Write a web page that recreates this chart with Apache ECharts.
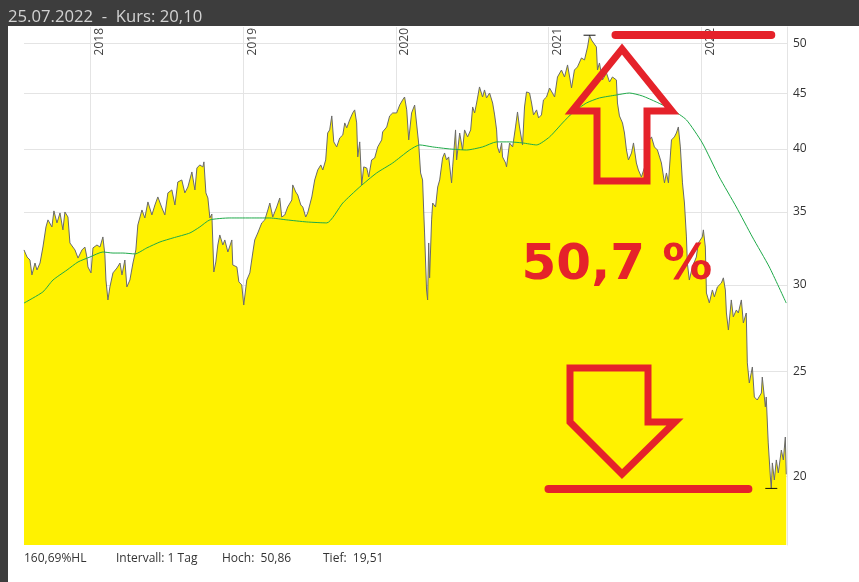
<!DOCTYPE html>
<html>
<head>
<meta charset="utf-8">
<title>Kurs</title>
<script src="https://cdn.jsdelivr.net/npm/echarts@6/dist/echarts.min.js"></script>
<style>
html,body{margin:0;padding:0;background:#fff;}
#chartPanel{width:859px;height:582px;}
</style>
</head>
<body>
<div id="chartPanel"></div>
<script>
// Datum als Dezimaljahr, Kurs in EUR
var dates = [
  2017.563,2017.583,2017.602,2017.615,2017.635,2017.648,2017.668,2017.687,2017.707,2017.720,2017.746,2017.759,2017.779,2017.799,2017.818,2017.831,2017.851,2017.864,2017.897,2017.917,2017.943,2017.962,2017.975,2017.982,
  2018.002,2018.015,2018.041,2018.061,2018.080,2018.093,2018.100,2018.113,2018.126,2018.146,2018.172,2018.192,2018.205,2018.224,2018.237,2018.257,2018.277,2018.296,2018.309,2018.336,2018.355,2018.375,2018.401,2018.421,2018.440,2018.467,2018.486,2018.506,2018.532,2018.552,2018.571,2018.597,2018.617,2018.637,2018.663,2018.683,2018.696,2018.715,2018.735,2018.742,2018.755,2018.768,2018.781,2018.794,2018.807,2018.820,2018.833,2018.846,2018.866,2018.879,2018.899,2018.925,2018.931,2018.958,2018.971,2018.990,
  2019.003,2019.023,2019.043,2019.062,2019.075,2019.095,2019.121,2019.141,2019.161,2019.174,2019.193,2019.219,2019.239,2019.252,2019.272,2019.291,2019.318,2019.324,2019.344,2019.357,2019.377,2019.390,2019.409,2019.422,2019.449,2019.468,2019.488,2019.508,2019.521,2019.540,2019.553,2019.566,2019.580,2019.593,2019.612,2019.632,2019.652,2019.665,2019.678,2019.697,2019.717,2019.730,2019.743,2019.750,2019.763,2019.776,2019.789,2019.809,2019.822,2019.841,2019.861,2019.881,2019.907,2019.913,2019.940,2019.959,2019.979,
  2020.005,2020.025,2020.044,2020.057,2020.071,2020.084,2020.103,2020.123,2020.136,2020.149,2020.162,2020.175,2020.182,2020.188,2020.201,2020.208,2020.215,2020.221,2020.234,2020.241,2020.260,2020.274,2020.287,2020.306,2020.319,2020.332,2020.346,2020.365,2020.372,2020.391,2020.398,2020.418,2020.437,2020.450,2020.470,2020.490,2020.503,2020.516,2020.529,2020.548,2020.568,2020.581,2020.594,2020.614,2020.634,2020.647,2020.660,2020.666,2020.679,2020.693,2020.699,2020.719,2020.725,2020.745,2020.765,2020.784,2020.797,2020.810,2020.830,2020.843,2020.856,2020.876,2020.889,2020.902,2020.922,2020.935,2020.954,2020.967,2020.987,
  2021.007,2021.026,2021.040,2021.059,2021.085,2021.105,2021.125,2021.151,2021.170,2021.190,2021.216,2021.236,2021.256,2021.269,2021.282,2021.295,2021.314,2021.321,2021.334,2021.354,2021.380,2021.400,2021.419,2021.445,2021.452,2021.465,2021.485,2021.498,2021.511,2021.524,2021.544,2021.557,2021.576,2021.589,2021.609,2021.635,2021.661,2021.675,2021.694,2021.714,2021.740,2021.760,2021.773,2021.786,2021.806,2021.825,2021.838,2021.851,2021.864,2021.878,2021.891,2021.904,2021.910,2021.923,2021.943,2021.969,2021.982,
  2022.008,2022.015,2022.028,2022.035,2022.054,2022.074,2022.087,2022.107,2022.133,2022.146,2022.159,2022.166,2022.179,2022.198,2022.211,2022.231,2022.244,2022.264,2022.277,2022.296,2022.303,2022.316,2022.336,2022.349,2022.368,2022.395,2022.401,2022.421,2022.427,2022.440,2022.454,2022.460,2022.467,2022.480,2022.493,2022.506,2022.526,2022.539,2022.552,2022.558
];
var prices = [
  32.30,31.82,31.62,30.64,31.42,30.96,31.42,32.50,33.91,34.42,33.91,35.08,34.20,34.93,33.70,35.00,34.63,32.78,32.30,31.75,32.30,32.50,31.82,31.16,
  30.77,32.44,32.64,32.50,33.20,31.96,30.31,29.06,29.87,30.77,31.09,31.42,30.64,31.62,29.87,30.31,31.42,32.30,34.05,35.15,34.56,35.75,34.78,35.52,36.13,35.30,34.78,36.44,36.67,35.52,37.29,37.45,36.44,36.90,38.09,36.67,38.41,38.66,38.50,38.91,36.44,36.05,34.56,34.85,30.83,31.49,32.64,33.34,32.64,32.99,32.16,32.99,31.29,31.16,30.19,30.00,
  28.75,30.31,30.77,32.09,32.99,33.48,34.20,34.42,35.15,35.67,34.63,35.37,36.05,34.63,34.78,35.37,35.90,37.06,36.51,36.28,35.52,35.37,34.63,34.93,36.13,37.45,38.25,38.66,38.25,39.07,41.36,41.63,42.88,40.59,40.16,40.93,41.19,42.25,41.81,42.52,43.15,43.43,42.25,39.32,40.59,37.06,38.50,38.41,37.69,39.07,39.23,40.16,40.76,41.45,41.89,42.88,43.15,
  43.15,43.88,44.35,44.63,43.43,40.76,43.15,43.88,43.70,40.50,38.01,37.45,35.15,33.48,29.68,29.06,32.78,30.45,34.42,35.67,35.37,36.90,37.45,39.23,39.65,39.07,39.32,37.22,38.50,41.63,39.07,41.36,39.90,41.63,41.02,41.63,43.70,43.15,44.07,45.59,44.63,45.30,44.54,45.01,44.07,42.97,41.63,40.16,39.65,40.50,39.32,38.82,38.50,40.50,40.16,41.89,43.24,41.89,40.33,43.70,45.11,45.01,44.07,42.97,43.43,42.70,42.97,44.35,44.63,
  45.49,45.01,44.63,46.56,47.25,46.56,47.76,45.49,47.25,47.56,48.47,48.27,49.61,50.86,50.35,50.56,49.61,47.25,47.96,46.27,46.96,46.07,46.56,46.27,44.07,42.88,42.25,41.36,39.90,39.07,39.65,40.50,38.82,38.25,37.69,38.66,40.76,41.02,40.16,39.90,38.82,37.22,38.01,37.22,40.76,41.02,41.36,41.89,40.16,37.22,35.67,33.20,31.42,30.31,31.16,31.82,32.78,
  33.20,33.70,32.50,29.49,28.88,29.68,29.25,29.87,30.12,30.45,29.68,28.27,27.27,29.06,28.04,28.45,28.27,29.06,27.68,28.27,25.44,24.38,25.22,23.67,23.52,23.87,24.69,23.18,23.67,21.48,19.99,19.51,20.59,19.86,20.72,20.16,21.16,20.72,21.75,20.10
];
// gleitender Durchschnitt (200 Tage)
var maDates = [2017.563,2017.687,2017.753,2017.845,2017.917,2017.995,2018.080,2018.146,2018.211,2018.290,2018.368,2018.454,2018.539,2018.650,2018.715,2018.781,2018.912,2019.043,2019.174,2019.285,2019.416,2019.547,2019.652,2019.763,2019.874,2019.979,2020.090,2020.156,2020.241,2020.352,2020.463,2020.568,2020.660,2020.745,2020.830,2020.922,2021.007,2021.092,2021.157,2021.249,2021.334,2021.445,2021.530,2021.615,2021.707,2021.812,2021.904,2022.008,2022.119,2022.231,2022.336,2022.447,2022.558];
var maValues = [28.87,29.56,30.31,30.96,31.49,31.82,32.16,32.09,32.09,32.03,32.44,32.85,33.13,33.48,33.91,34.42,34.56,34.56,34.56,34.42,34.27,34.20,35.67,36.90,38.01,38.82,39.90,40.33,40.16,39.99,39.90,40.16,40.59,40.59,40.50,40.33,41.02,42.25,43.15,44.07,44.54,44.82,45.01,44.73,44.16,43.43,42.52,40.50,37.69,35.37,33.20,31.16,28.87];

var yTicks = [20,25,30,35,40,45,50];
var yearTicks = [2018,2019,2020,2021,2022];
var headerText = '25.07.2022  -  Kurs: 20,10';
var footerTexts = ['160,69%HL','Intervall: 1 Tag','Hoch:  50,86','Tief:  19,51'];
var changeText = '50,7 %';

var RED = '#e5222a';
var hoch = Math.max.apply(null, prices),
    tief = Math.min.apply(null, prices);

// log-Skala: Werte als ln() auf eine Wertachse
var ln = Math.log;
var priceData = dates.map(function(d, i){ return [d, ln(prices[i])]; });
var maData = maDates.map(function(d, i){ return [d, ln(maValues[i])]; });
var yTickLn = yTicks.map(ln);

var chartPanel = echarts.init(document.getElementById('chartPanel'));

var option = {
  animation: false,
  backgroundColor: '#fff',
  grid: { left: 24, right: 72, top: 27, bottom: 37 },
  xAxis: {
    type: 'value',
    position: 'top',
    min: 2017.563,
    max: 2022.563,
    axisLine: { show: false },
    axisTick: { show: false, customValues: yearTicks },
    axisLabel: {
      inside: true,
      rotate: -90,
      customValues: yearTicks,
      formatter: function(v){ return String(Math.round(v)); },
      align: 'right',
      verticalAlign: 'top',
      lineHeight: 18,
      margin: 1,
      color: '#444',
      fontSize: 12,
      fontFamily: 'Open Sans'
    },
    splitLine: { show: true, lineStyle: { color: '#e4e4e4', width: 1 } }
  },
  yAxis: {
    type: 'value',
    position: 'right',
    min: ln(17.31),
    max: ln(51.75),
    axisLine: { show: true, lineStyle: { color: '#e4e4e4' } },
    axisTick: { show: false, customValues: yTickLn },
    axisLabel: {
      customValues: yTickLn,
      formatter: function(v){ return String(Math.round(Math.exp(v))); },
      margin: 6,
      padding: [0, 0, 3, 0],
      color: '#333',
      fontSize: 12,
      fontFamily: 'Open Sans'
    },
    splitLine: { show: true, lineStyle: { color: '#e4e4e4', width: 1 } }
  },
  series: [
    {
      name: 'Kurs',
      type: 'line',
      data: priceData,
      symbol: 'none',
      lineStyle: { color: '#6a6a6a', width: 1 },
      areaStyle: { color: '#fff200', opacity: 1, origin: 'start' },
      z: 2,
      markPoint: {
        symbol: 'rect',
        symbolSize: [12, 1],
        itemStyle: { color: '#111' },
        label: { show: false },
        data: [{ type: 'max' }, { type: 'min' }]
      }
    },
    {
      name: 'GD200',
      type: 'line',
      data: maData,
      symbol: 'none',
      smooth: 0.2,
      lineStyle: { color: '#1faa4a', width: 1 },
      z: 3
    },
    {
      // rote Markierungen bei Hoch und Tief
      name: 'Markierung',
      type: 'line',
      data: [],
      z: 10,
      markLine: {
        silent: true,
        symbol: ['none', 'none'],
        label: { show: false },
        lineStyle: { color: RED, width: 8, type: 'solid', cap: 'round', opacity: 1 },
        data: [
          [{ coord: [2021.439, ln(hoch)] }, { coord: [2022.460, ln(hoch)] }],
          [{ coord: [2021.000, ln(tief)] }, { coord: [2022.310, ln(tief)] }]
        ]
      }
    }
  ],
  graphic: [
    { type: 'rect', left: 0, top: 0, z: 50, shape: { width: 859, height: 26 }, style: { fill: '#3d3d3d' } },
    { type: 'rect', left: 0, top: 0, z: 50, shape: { width: 8, height: 582 }, style: { fill: '#3d3d3d' } },
    { type: 'text', x: 8, y: 17, z: 51, style: { text: headerText, fill: '#d2d2d2', font: '16.7px "Open Sans"', verticalAlign: 'middle' } },
    // Pfeil hoch
    { type: 'polygon', z: 60, shape: { points: [[622,49],[672,111],[647,111],[647,181],[597,181],[597,111],[572,111]] },
      style: { fill: 'none', stroke: RED, lineWidth: 7, lineJoin: 'miter' } },
    // Pfeil runter
    { type: 'polygon', z: 60, shape: { points: [[570,368],[648,368],[648,422],[675,422],[622,474],[570,422]] },
      style: { fill: 'none', stroke: RED, lineWidth: 7, lineJoin: 'miter' } },
    { type: 'text', x: 617, y: 266, z: 60, style: { text: changeText, fill: RED, font: 'bold 50px "DejaVu Sans"', align: 'center', verticalAlign: 'middle' } },
    { type: 'text', x: 24, y: 559, z: 51, style: { text: footerTexts[0], fill: '#333', font: '12px "Open Sans"', verticalAlign: 'middle' } },
    { type: 'text', x: 116, y: 559, z: 51, style: { text: footerTexts[1], fill: '#333', font: '12px "Open Sans"', verticalAlign: 'middle' } },
    { type: 'text', x: 222, y: 559, z: 51, style: { text: footerTexts[2], fill: '#333', font: '12px "Open Sans"', verticalAlign: 'middle' } },
    { type: 'text', x: 323, y: 559, z: 51, style: { text: footerTexts[3], fill: '#333', font: '12px "Open Sans"', verticalAlign: 'middle' } }
  ]
};
chartPanel.setOption(option);
</script>
</body>
</html>
